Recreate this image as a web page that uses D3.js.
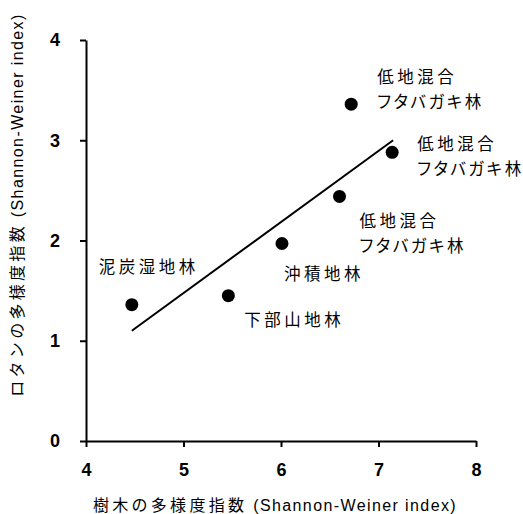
<!DOCTYPE html>
<html><head><meta charset="utf-8">
<script src="https://cdn.jsdelivr.net/npm/d3@7"></script>
<style>
body{margin:0;background:#fff;}
svg{display:block;}
.lbl{font-family:"Noto Sans CJK JP",sans-serif;font-size:16.5px;letter-spacing:3.5px;font-feature-settings:"palt";}
.lbl .kana{letter-spacing:2.5px;}
.tick text{font-family:"Liberation Sans",Arial,sans-serif;font-weight:bold;font-size:18px;}
.ttl{font-family:"Liberation Sans","Noto Sans CJK JP",sans-serif;font-size:16px;}
.ttl .cjk{letter-spacing:3.3px;}
.ttl .lat{letter-spacing:1.4px;}
</style></head><body>
<svg id="c" width="523" height="514"></svg>
<script>
const forestNames = [["泥炭湿地林"],["下部山地林"],["沖積地林"],["低地混合","フタバガキ林"],["低地混合","フタバガキ林"],["低地混合","フタバガキ林"]];
const treeDiversity = [4.47, 5.46, 6.01, 6.60, 6.72, 7.14];
const rattanDiversity = [1.36, 1.45, 1.97, 2.44, 3.36, 2.88];
const trendX = [4.47, 7.15];
const trendY = [1.10, 3.00];
const xTicks = [4,5,6,7,8];
const yTicks = [0,1,2,3,4];
const xTitle = ["樹木の多様度指数", " (Shannon-Weiner index)"];
const yTitle = ["ロタンの多様度指数", " (Shannon-Weiner index)"];

// label placement (layout only)
const labelOffsets = [[-33,-32],[16,30],[2,36],[20,31],[26,-21],[25,-2]];
const lineGap = 25;

const svg = d3.select("#c");
const x = d3.scaleLinear().domain([4,8]).range([86,476]);
const y = d3.scaleLinear().domain([0,4]).range([441,40]);

const xa = svg.append("g").attr("transform","translate(0,441)")
  .call(d3.axisBottom(x).tickValues(xTicks).tickFormat(d3.format("d")).tickSize(6).tickPadding(16).tickSizeOuter(0));
const ya = svg.append("g").attr("transform","translate(86,0)")
  .call(d3.axisLeft(y).tickValues(yTicks).tickFormat(d3.format("d")).tickSize(6).tickPadding(20).tickSizeOuter(0));
[xa,ya].forEach(a=>{
  a.select(".domain").attr("stroke","#000").attr("stroke-width",2);
  a.selectAll(".tick line").attr("stroke","#000").attr("stroke-width",2);
  a.selectAll(".tick text").attr("fill","#000");
});

svg.append("line")
  .attr("x1",x(trendX[0])).attr("y1",y(trendY[0]))
  .attr("x2",x(trendX[1])).attr("y2",y(trendY[1]))
  .attr("stroke","#000").attr("stroke-width",2);

svg.selectAll("circle.pt").data(treeDiversity).enter().append("circle")
  .attr("class","pt").attr("cx",d=>x(d)).attr("cy",(d,i)=>y(rattanDiversity[i]))
  .attr("r",6.5).attr("fill","#000");

forestNames.forEach((lines,i)=>{
  const px = x(treeDiversity[i]), py = y(rattanDiversity[i]);
  const t = svg.append("text").attr("class","lbl")
    .attr("x",px+labelOffsets[i][0]).attr("y",py+labelOffsets[i][1]);
  lines.forEach((s,j)=>{
    t.append("tspan").attr("class",j===1?"kana":null)
      .attr("x",px+labelOffsets[i][0]).attr("dy",j===0?0:lineGap).text(s);
  });
});

function title(parts, g){
  const t = g.append("text").attr("class","ttl").attr("text-anchor","middle");
  t.append("tspan").attr("class","cjk").text(parts[0]);
  t.append("tspan").attr("class","lat").text(parts[1]);
}
title(xTitle, svg.append("g").attr("transform","translate(275,511)"));
title(yTitle, svg.append("g").attr("transform","translate(23,205) rotate(-90)"));
</script></body></html>
